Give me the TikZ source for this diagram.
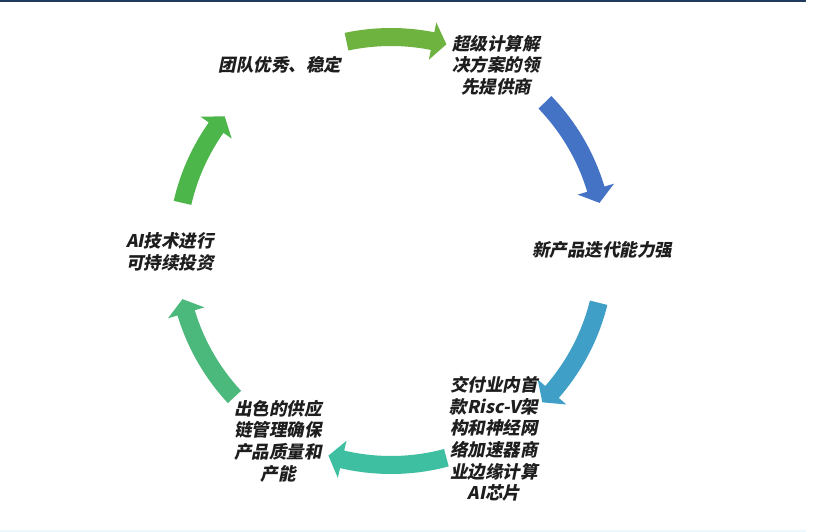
\documentclass[tikz,border=0pt]{standalone}
\usepackage{fontspec}
\setmainfont{Liberation Sans}
\newfontfamily\cjk{Noto Sans CJK SC}[FakeSlant=0.2]
\definecolor{navy}{HTML}{1F3A5C}
\definecolor{cA}{HTML}{6EB23F}
\definecolor{cB}{HTML}{4472C4}
\definecolor{cC}{HTML}{3F9FC6}
\definecolor{cD}{HTML}{3EBFA2}
\definecolor{cE}{HTML}{4CB97C}
\definecolor{cF}{HTML}{4CB64A}
\definecolor{txt}{HTML}{1E1E1E}
\newcommand\cycarrow[3]{%
  \fill[#1] (#2:223pt) arc[start angle=#2, end angle={#3+3.8}, radius=223pt]
    -- ({#3+3.8}:233pt) -- (#3:214pt) -- ({#3+3.8}:195pt)
    -- ({#3+3.8}:205pt) arc[start angle={#3+3.8}, end angle=#2, radius=205pt] -- cycle;}
\tikzset{lbl/.style={font=\cjk\bfseries\fontsize{17.5pt}{21.6pt}\selectfont, text=txt, align=center, inner sep=0pt}}
\begin{document}
\begin{tikzpicture}[x=1pt,y=1pt]
\useasboundingbox (0,0) rectangle (814,-532);
\fill[white] (0,0) rectangle (814,-532);
\fill[navy] (0,0) rectangle (806,-2.2);
\fill[cyan!8] (0,-529.5) rectangle (806,-532);
\begin{scope}[shift={(391,-251)}]
  \cycarrow{cA}{102}{75}
  \cycarrow{cB}{44}{13}
  \cycarrow{cC}{-14}{-45}
  \cycarrow{cD}{-75}{-107}
  \cycarrow{cE}{223}{193}
  \cycarrow{cF}{167}{141}
\end{scope}
\node[lbl] (t1) at (280,-65) {团队优秀、稳定};
\node[lbl] (t2) at (496,-65) {超级计算解\\决方案的领\\先提供商};
\node[lbl] (t3) at (602,-250) {新产品迭代能力强};
\node[lbl] (t4) at (494,-439) {交付业内首\\款Risc-V架\\构和神经网\\络加速器商\\业边缘计算\\AI芯片};
\node[lbl] (t5) at (278,-441) {出色的供应\\链管理确保\\产品质量和\\产能};
\node[lbl] (t6) at (170,-252) {AI技术进行\\可持续投资};
\end{tikzpicture}
\end{document}
